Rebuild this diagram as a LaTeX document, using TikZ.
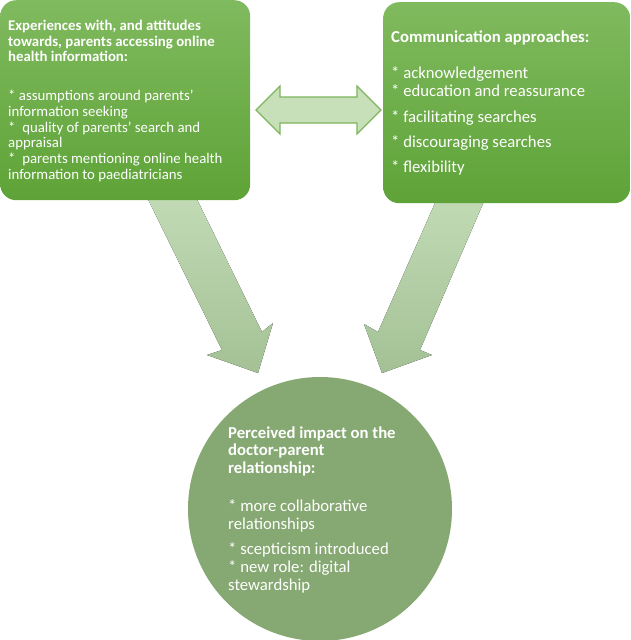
\documentclass[tikz,border=0pt]{standalone}
\usepackage{fontspec}
\setmainfont{Carlito}
\usetikzlibrary{positioning}

\definecolor{boxtop}{HTML}{80BA5F}
\definecolor{boxbottom}{HTML}{5EA337}
\definecolor{circfill}{HTML}{86A872}
\definecolor{arrtop}{HTML}{C3DCB7}
\definecolor{arrbottom}{HTML}{A4C195}
\definecolor{dblfill}{HTML}{C7E0BA}
\definecolor{dbldraw}{HTML}{7DB65C}

\tikzset{
  greenbox/.style={rectangle, rounded corners=16pt, top color=boxtop,
    bottom color=boxbottom, draw=none, inner sep=0pt},
  boxtext/.style={text=white, align=left, inner sep=0pt, anchor=north west},
  downarrow/.style={top color=arrtop, bottom color=arrbottom, draw=none}
}

\begin{document}
\begin{tikzpicture}[x=1pt, y=-1pt]
  \useasboundingbox (0,0) rectangle (630,640);

  % breite Pfeile nach unten (hinter den Kaesten)
  \fill[downarrow] (141,185) -- (222,350) -- (207,355) -- (258,373)
    -- (273,323) -- (262,332) -- (190,185) -- cycle;
  \fill[downarrow] (443,185) -- (378,332) -- (364,324) -- (382,373)
    -- (432,355) -- (420,350) -- (491,185) -- cycle;

  % linker Kasten
  \node[greenbox, minimum width=250pt, minimum height=200pt, anchor=north west]
    (exper) at (0,0) {};
  \node[boxtext, font=\fontsize{14.8}{15.6}\selectfont\bfseries] (experhead)
    at (8,20)
    {Experiences with, and attitudes\\
     towards, parents accessing online\\
     health information:};
  \node[boxtext, font=\fontsize{14.8}{15.8}\selectfont] (experlist) at (8,89.8)
    {* assumptions around parents'\\
     information seeking\\
     *\ \ quality of parents' search and\\
     appraisal\\
     *\ \ parents mentioning online health\\
     information to paediatricians};

  % rechter Kasten
  \node[greenbox, minimum width=247pt, minimum height=201pt, anchor=north west]
    (comm) at (383,2) {};
  \node[boxtext, font=\fontsize{16.7}{18}\selectfont\bfseries] (commhead)
    at (391,30.5) {Communication approaches:};
  \node[boxtext, font=\fontsize{16.7}{18}\selectfont] (commlist) at (391,66.8)
    {* acknowledgement\\
     * education and reassurance\\[7.5pt]
     * facilitating searches\\[7pt]
     * discouraging searches\\[7.5pt]
     * flexibility};

  % Doppelpfeil zwischen den Kaesten
  \draw[fill=dblfill, draw=dbldraw, line width=1.2pt, line join=miter]
    (256,110) -- (280,86) -- (280,97) -- (357,97) -- (357,86) -- (381,110)
    -- (357,134) -- (357,123) -- (280,123) -- (280,134) -- cycle;

  % Kreis unten
  \node[circle, fill=circfill, minimum size=264pt, inner sep=0pt] (impact)
    at (320,509) {};
  \node[boxtext, font=\fontsize{16.7}{17.7}\selectfont\bfseries] (impacthead)
    at (228,426.3)
    {Perceived impact on the\\
     doctor-parent\\
     relationship:};
  \node[boxtext, font=\fontsize{16.7}{17.8}\selectfont] (impactlist)
    at (228,499.3)
    {* more collaborative\\
     relationships\\[7.5pt]
     * scepticism introduced\\
     * new role: digital\\
     stewardship};

\end{tikzpicture}
\end{document}
